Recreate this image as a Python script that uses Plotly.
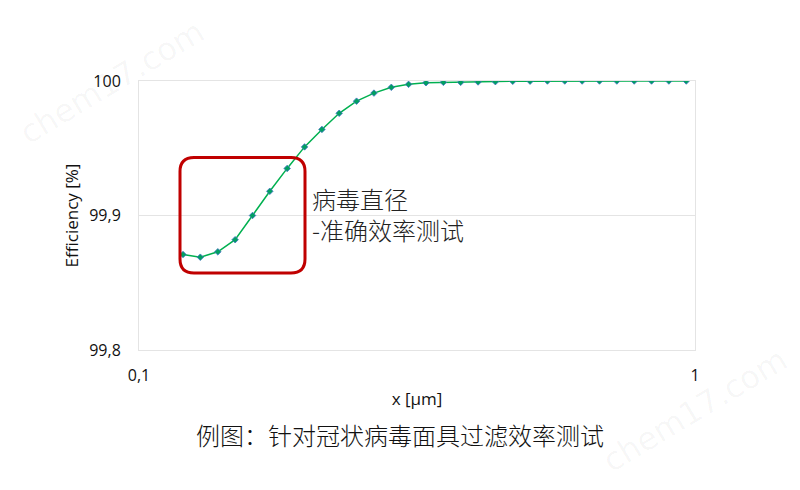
import plotly.graph_objects as go

# particle size in µm (log axis)
x_um = [0.1200, 0.1289, 0.1386, 0.1489, 0.1600, 0.1719, 0.1847, 0.1985, 0.2133, 0.2291,
        0.2462, 0.2646, 0.2843, 0.3054, 0.3282, 0.3527, 0.3789, 0.4072, 0.4375, 0.4701,
        0.5051, 0.5427, 0.5832, 0.6266, 0.6733, 0.7235, 0.7774, 0.8353, 0.8975, 0.9644]

# filter efficiency in %
efficiency = [99.871, 99.869, 99.873, 99.882, 99.900, 99.918, 99.935, 99.951, 99.964, 99.976,
              99.985, 99.991, 99.9953, 99.9975, 99.9987, 99.9990, 99.9990, 99.9993, 99.9995, 99.9998,
              99.9999, 100.0, 100.0, 100.0, 100.0, 100.0, 100.0, 100.0, 100.0, 100.0]

y_ticks = [99.8, 99.9, 100]
x_ticks = [0.1, 1]

LATIN = "Open Sans, DejaVu Sans, sans-serif"
CJK = "Noto Sans CJK SC, sans-serif"
GRID = "#e4e4e4"

# page body has an 8px margin, so the figure is drawn 8px smaller and everything
# below is measured in figure pixels (page pixels minus 8)
W, H = 792, 482
L, R, T, B = 131, 105, 73, 140
PW, PH = W - L - R, H - T - B


def px_to_paper(px, py):
    return (px - 8 - L) / PW, (H - B - (py - 8)) / PH


fig = go.Figure()

fig.add_trace(go.Scatter(
    x=x_um,
    y=efficiency,
    mode="lines+markers",
    line=dict(color="#00B050", width=1.5),
    marker=dict(symbol="diamond", size=5, color="#00A060",
                line=dict(color="#4472C4", width=0.8)),
    showlegend=False,
))

# rounded red box around the dip (pixel path around an anchor in paper coords)
hw, hh, r = 62.5, 57.7, 14
box = (f"M {-hw + r},{-hh} L {hw - r},{-hh} Q {hw},{-hh} {hw},{-hh + r} "
       f"L {hw},{hh - r} Q {hw},{hh} {hw - r},{hh} L {-hw + r},{hh} "
       f"Q {-hw},{hh} {-hw},{hh - r} L {-hw},{-hh + r} Q {-hw},{-hh} {-hw + r},{-hh} Z")
bx, by = px_to_paper(242.5, 215.3)
fig.add_shape(type="path", xref="paper", yref="paper",
              xsizemode="pixel", ysizemode="pixel",
              xanchor=bx, yanchor=by, path=box,
              line=dict(color="#C00000", width=3))

tx, ty = px_to_paper(310, 213.5)
fig.add_annotation(text="病毒直径<br>-准确效率测试", xref="paper", yref="paper",
                   x=tx, y=ty, xanchor="left", yanchor="middle", align="left",
                   showarrow=False,
                   font=dict(family=CJK, size=24, color="#222222", weight=300))

# faint watermarks
for wx, wy in [(112, 82), (695, 410)]:
    ax, ay = px_to_paper(wx, wy)
    fig.add_annotation(text="chem17.com", xref="paper", yref="paper",
                       x=ax, y=ay, xanchor="center", yanchor="middle",
                       showarrow=False, textangle=-31,
                       font=dict(family="DejaVu Sans", size=32, color="rgba(0,0,0,0.04)"))

fig.update_xaxes(
    type="log", range=[-1, 0],
    tickvals=x_ticks,
    showgrid=False, showline=True, mirror=True, linecolor=GRID, linewidth=1,
    ticks="outside", ticklen=11, tickcolor="rgba(0,0,0,0)",
    tickfont=dict(family=LATIN, size=16, color="#111111"),
    title=dict(text="x [µm]", standoff=7, font=dict(family=LATIN, size=17, color="#111111")),
    zeroline=False,
)
fig.update_yaxes(
    range=[99.8, 100], tickvals=y_ticks,
    showgrid=True, gridcolor=GRID, gridwidth=1,
    showline=True, mirror=True, linecolor=GRID, linewidth=1,
    ticks="outside", ticklen=14, tickcolor="rgba(0,0,0,0)",
    tickfont=dict(family=LATIN, size=16, color="#111111"),
    title=dict(text="Efficiency [%]", standoff=6, font=dict(family=LATIN, size=17, color="#111111")),
    zeroline=False,
)

fig.update_layout(
    width=W, height=H,
    margin=dict(l=L, r=R, t=T, b=B),
    separators=",.",
    paper_bgcolor="white", plot_bgcolor="white",
    title=dict(text="例图：针对冠状病毒面具过滤效率测试", x=(400 - 8) / W, xanchor="center",
               y=1 - (437 - 8) / H, yanchor="middle", yref="container",
               font=dict(family=CJK, size=24, color="#111111", weight=300)),
)

fig.write_html("out.html")
